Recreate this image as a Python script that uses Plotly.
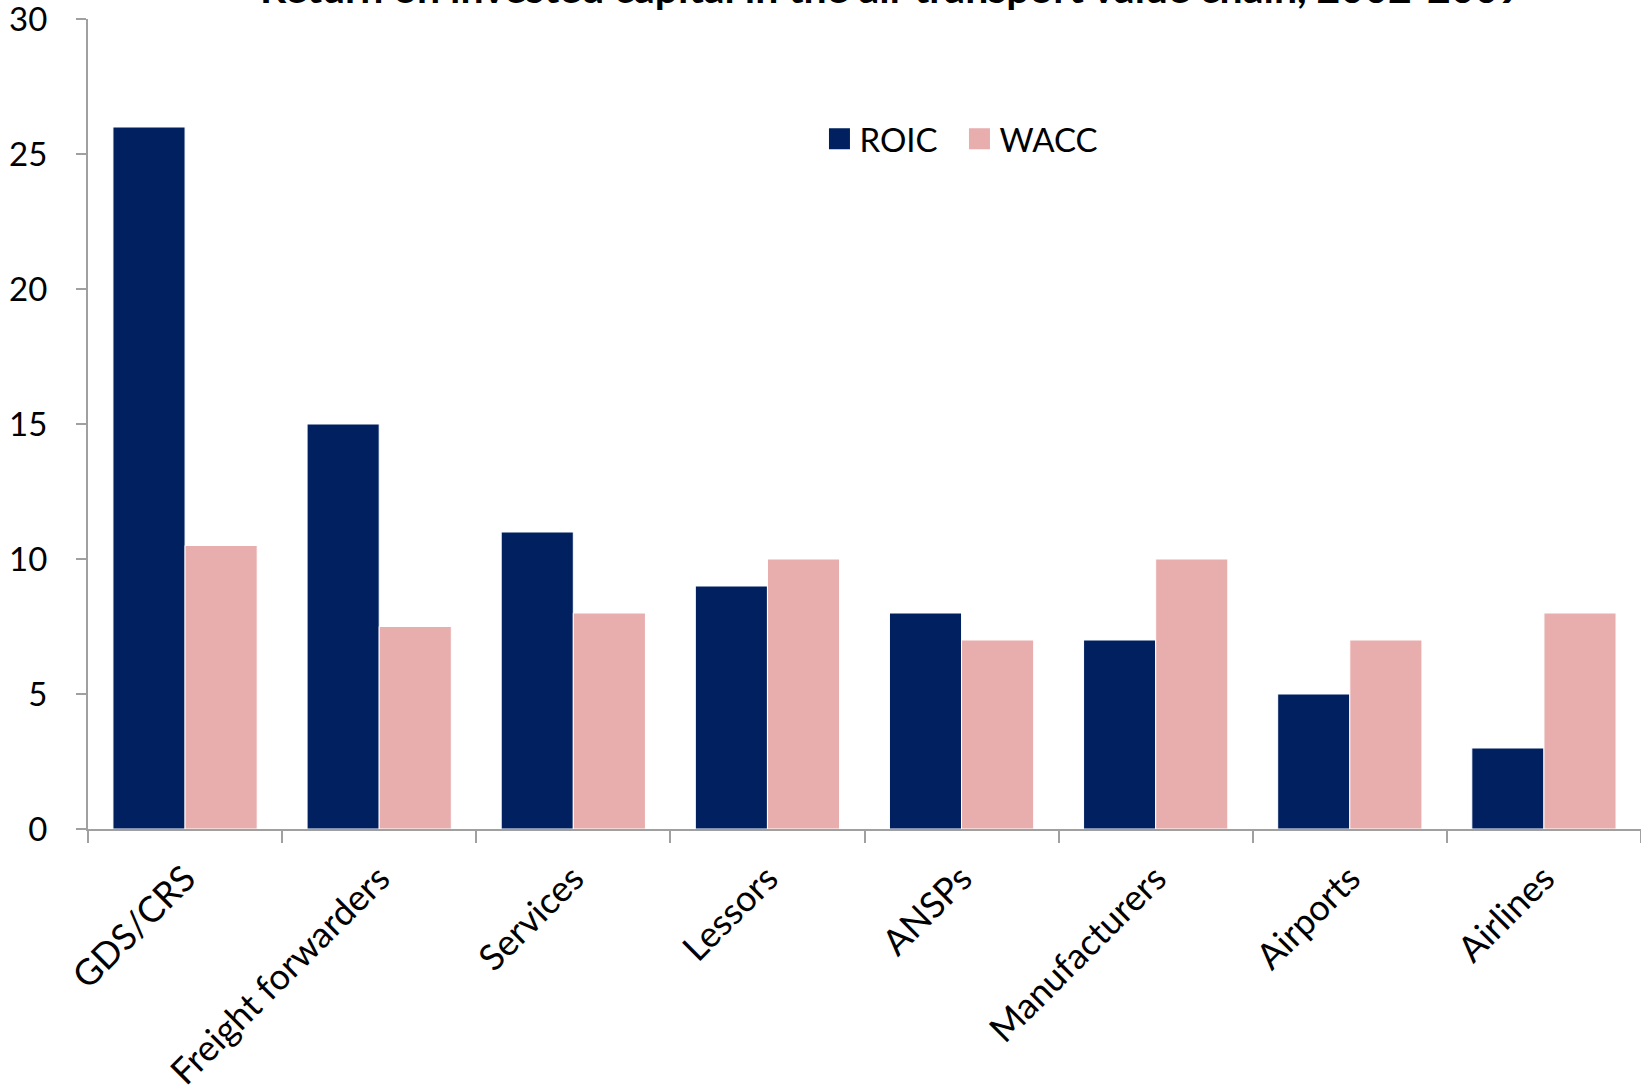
import plotly.graph_objects as go

categories = ["GDS/CRS", "Freight forwarders", "Services", "Lessors", "ANSPs",
              "Manufacturers", "Airports", "Airlines"]
roic = [26, 15, 11, 9, 8, 7, 5, 3]
wacc = [10.5, 7.5, 8, 10, 7, 10, 7, 8]
y_ticks = [0, 5, 10, 15, 20, 25, 30]
title_text = "Return on invested capital in the air transport value chain, 2002-2009"

FONT = "Lato, 'Open Sans', sans-serif"
C_ROIC = "#002060"
C_WACC = "#E8ADAD"

fig = go.Figure()
fig.add_trace(go.Bar(name="ROIC", x=categories, y=roic, marker_color=C_ROIC,
                     marker_line_color="white", marker_line_width=1, showlegend=False))
fig.add_trace(go.Bar(name="WACC", x=categories, y=wacc, marker_color=C_WACC,
                     marker_line_color="white", marker_line_width=1, showlegend=False))
# legend entries with larger square symbols
for name, col in [("ROIC", C_ROIC), ("WACC", C_WACC)]:
    fig.add_trace(go.Scatter(name=name, x=[None], y=[None], mode="markers",
                             marker=dict(symbol="square", size=16, color=col,
                                         line=dict(color=col, width=5)),
                             showlegend=True))

fig.update_layout(
    width=1641, height=1089,
    margin=dict(l=88, r=0, t=19, b=260),
    paper_bgcolor="white", plot_bgcolor="white",
    barmode="group", bargap=0.257, bargroupgap=0,
    font=dict(family=FONT, size=30, color="black"),
    showlegend=True,
    legend=dict(orientation="h", x=0.471, y=0.852, xanchor="left", yanchor="middle",
                font=dict(size=33), bgcolor="rgba(0,0,0,0)", itemwidth=30,
                tracegroupgap=0, entrywidth=95),
)
fig.update_xaxes(
    type="category", showline=True, linecolor="#A0A0A0", linewidth=2,
    ticks="outside", tickson="boundaries", ticklen=12, tickcolor="#A0A0A0", tickwidth=2,
    tickangle=-45, tickfont=dict(size=36), showgrid=False, ticklabelstandoff=12,
    automargin=False,
)
fig.update_yaxes(
    range=[0, 30], tickvals=y_ticks, showline=True, linecolor="#A0A0A0", linewidth=2,
    ticks="outside", ticklen=10, tickcolor="#A0A0A0", tickwidth=2,
    tickfont=dict(size=33), showgrid=False, zeroline=False, ticklabelstandoff=22,
    ticklabeloverflow="allow", automargin=False,
)
fig.add_annotation(
    text="<b>" + title_text + "</b>", xref="paper", yref="paper",
    x=0.517, y=1.0, yshift=5, xanchor="center", yanchor="bottom",
    showarrow=False, font=dict(size=41, family=FONT),
)
fig.write_html("out.html")
